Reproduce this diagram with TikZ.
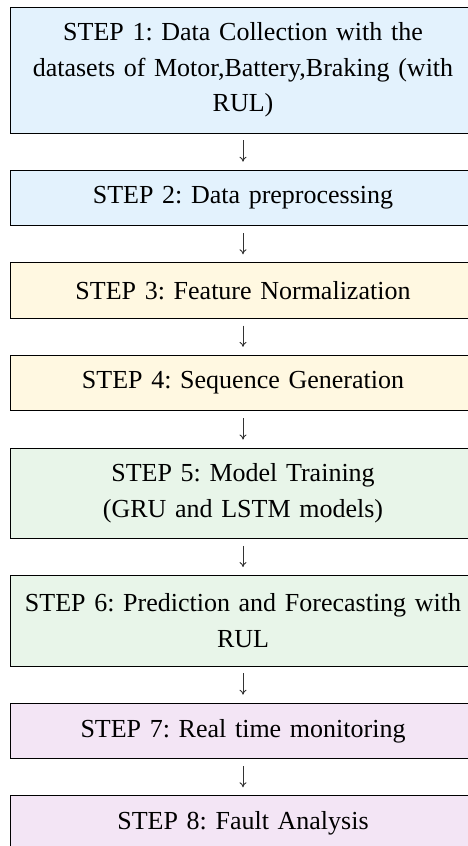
\documentclass[tikz,border=0pt]{standalone}
\usepackage{fontspec}
\setmainfont{Liberation Serif}
\usepackage{tikz}
\usetikzlibrary{arrows.meta, positioning}

\definecolor{stblue}{HTML}{E3F2FD}
\definecolor{styellow}{HTML}{FFF8E1}
\definecolor{stgreen}{HTML}{E8F5E9}
\definecolor{stpurple}{HTML}{F3E5F5}

\begin{document}
\frenchspacing
\begin{tikzpicture}[node distance=36.3pt,
	stepbox/.style={draw, line width=0.8pt, text width=445pt, inner xsep=10pt, align=center,
		minimum height=55.5pt, font=\fontsize{26}{35.5}\selectfont},
	flow/.style={-{To[length=5pt,width=7pt]}, line width=0.9pt, black!80, shorten <=7pt, shorten >=8pt}]
	\useasboundingbox (0,0) rectangle (468pt,-846pt);
	\clip (0,0) rectangle (468pt,-846pt);

	\node [stepbox, fill=stblue, minimum height=126pt] (s1) at (243pt,-70pt)
		{STEP 1: Data Collection with the\\ datasets of Motor,Battery,Braking (with\\ RUL)};
	\node [stepbox, fill=stblue,   below =of s1] (s2) {STEP 2: Data preprocessing};
	\node [stepbox, fill=styellow, below =of s2] (s3) {STEP 3: Feature Normalization};
	\node [stepbox, fill=styellow, below =of s3] (s4) {STEP 4: Sequence Generation};
	\node [stepbox, fill=stgreen,  below =of s4, minimum height=90.5pt] (s5)
		{STEP 5: Model Training\\ (GRU and LSTM models)};
	\node [stepbox, fill=stgreen,  below =of s5, minimum height=90.5pt] (s6)
		{STEP 6: Prediction and Forecasting with\\ RUL};
	\node [stepbox, fill=stpurple, below =of s6] (s7) {STEP 7: Real time monitoring};
	\node [stepbox, fill=stpurple, below =of s7] (s8) {STEP 8: Fault Analysis};

	\draw[flow] (s1) -- (s2);
	\draw[flow] (s2) -- (s3);
	\draw[flow] (s3) -- (s4);
	\draw[flow] (s4) -- (s5);
	\draw[flow] (s5) -- (s6);
	\draw[flow] (s6) -- (s7);
	\draw[flow] (s7) -- (s8);

\end{tikzpicture}
\end{document}
